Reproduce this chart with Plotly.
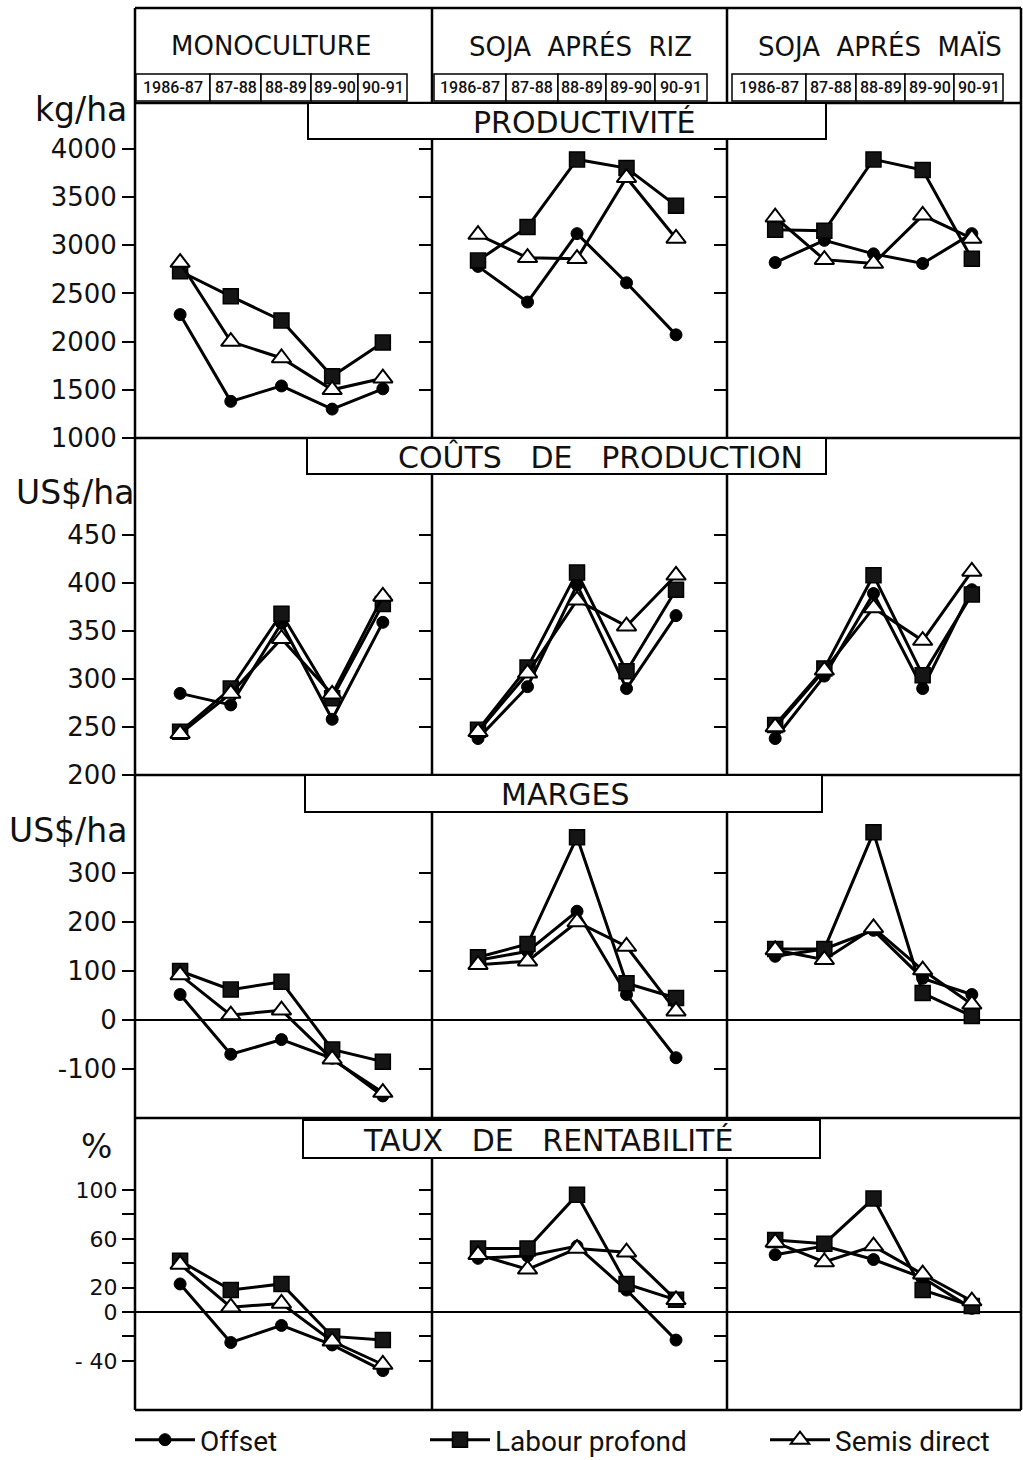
import plotly.graph_objects as go

W, H = 1023, 1460

years = ["1986-87", "87-88", "88-89", "89-90", "90-91"]
systems = ["MONOCULTURE", "SOJA  APRÉS  RIZ", "SOJA  APRÉS  MAÏS"]
indicators = ["PRODUCTIVITÉ", "COÛTS   DE   PRODUCTION", "MARGES", "TAUX   DE   RENTABILITÉ"]
units = ["kg/ha", "US$/ha", "US$/ha", "%"]
treatments = ["Offset", "Labour profond", "Semis direct"]

# Productivité (kg/ha) : [monoculture, soja après riz, soja après maïs]
prod_offset = [[2280, 1380, 1540, 1300, 1510], [2780, 2410, 3120, 2610, 2070], [2820, 3050, 2910, 2810, 3120]]
prod_labour = [[2730, 2470, 2220, 1640, 1990], [2840, 3190, 3890, 3800, 3410], [3160, 3150, 3890, 3780, 2860]]
prod_semis = [[2820, 2000, 1830, 1500, 1620], [3110, 2870, 2860, 3700, 3070], [3290, 2850, 2810, 3310, 3070]]

# Coûts de production (US$/ha)
cout_offset = [[285, 273, 358, 258, 359], [238, 292, 398, 290, 366], [238, 303, 389, 290, 393]]
cout_labour = [[245, 290, 368, 280, 378], [247, 312, 411, 308, 393], [252, 311, 408, 304, 388]]
cout_semis = [[243, 285, 342, 284, 386], [245, 306, 382, 355, 408], [250, 309, 374, 340, 412]]

# Marges (US$/ha)
marge_offset = [[52, -70, -40, -78, -155], [122, 140, 222, 52, -77], [130, 145, 183, 85, 52]]
marge_labour = [[100, 62, 78, -60, -85], [128, 155, 373, 75, 45], [145, 145, 383, 55, 8]]
marge_semis = [[92, 10, 20, -80, -148], [113, 120, 200, 150, 18], [143, 123, 188, 102, 32]]

# Taux de rentabilité (%)
taux_offset = [[23, -25, -11, -27, -48], [44, 46, 54, 18, -23], [47, 54, 43, 28, 3]]
taux_labour = [[42, 18, 23, -20, -23], [52, 52, 96, 23, 10], [59, 56, 93, 18, 5]]
taux_semis = [[39, 4, 7, -24, -43], [47, 35, 52, 49, 10], [57, 41, 54, 31, 9]]

data = [
    [prod_offset, prod_labour, prod_semis],
    [cout_offset, cout_labour, cout_semis],
    [marge_offset, marge_labour, marge_semis],
    [taux_offset, taux_labour, taux_semis],
]

row_tickvals = [
    [1000, 1500, 2000, 2500, 3000, 3500, 4000],
    [200, 250, 300, 350, 400, 450],
    [-100, 0, 100, 200, 300],
    [-40, -20, 0, 20, 40, 60, 80, 100],
]
row_ticktext = [
    ["1000", "1500", "2000", "2500", "3000", "3500", "4000"],
    ["200", "250", "300", "350", "400", "450"],
    ["-100", "0", "100", "200", "300"],
    ["- 40", "", "0", "20", "", "60", "", "100"],
]
row_tickfont_size = [26, 26, 26, 22]

# ---------- layout geometry (pixels) ----------
col_px = [(135, 432), (432, 727), (727, 1021)]
row_px = [(103, 438), (438, 775), (775, 1118), (1118, 1410)]
xranges = [[-0.89, 4.97], [-0.93, 5.03], [-0.98, 5.0]]
yranges = [[1000, 4475], [200, 551], [-200, 500], [-80.3, 159]]


def fx(x):
    return x / W


def fy(y):
    return 1 - y / H


marker_styles = [
    dict(symbol="circle", size=12, color="black", line=dict(color="black", width=1)),
    dict(symbol="square", size=15, color="#151515", line=dict(color="black", width=1.5)),
    dict(symbol="triangle-up", size=17, color="white", line=dict(color="black", width=2)),
]
legend_ids = ["legend", "legend2", "legend3"]

fig = go.Figure()
layout = {}

for r in range(4):
    for c in range(3):
        k = r * 3 + c + 1
        sfx = "" if k == 1 else str(k)
        x0, x1 = col_px[c]
        y0, y1 = row_px[r]
        layout["xaxis" + sfx] = dict(
            domain=[fx(x0), fx(x1)], range=xranges[c], visible=False,
            anchor="y" + sfx, type="category", fixedrange=True, automargin=False,
        )
        layout["yaxis" + sfx] = dict(
            domain=[fy(y1), fy(y0)], range=yranges[r], anchor="x" + sfx,
            showgrid=False, showline=False, automargin=False,
            zeroline=(r >= 2), zerolinecolor="black", zerolinewidth=2,
            ticks="outside", ticklen=12, tickwidth=2, tickcolor="black",
            tickvals=row_tickvals[r], ticktext=row_ticktext[r],
            showticklabels=(c == 0),
            tickfont=dict(family="DejaVu Sans", size=row_tickfont_size[r], color="#111"),
            fixedrange=True,
        )
        for t in range(3):
            fig.add_trace(go.Scatter(
                x=years, y=data[r][t][c], mode="lines+markers",
                name=treatments[t], legendgroup=treatments[t],
                legend=legend_ids[t],
                showlegend=(k == 1),
                line=dict(color="black", width=3),
                marker=marker_styles[t],
                xaxis="x" + sfx, yaxis="y" + sfx,
                cliponaxis=False,
            ))

shapes = []
LW = 2.5


def line(xa, ya, xb, yb, w=LW):
    shapes.append(dict(type="line", xref="paper", yref="paper",
                       x0=fx(xa), y0=fy(ya), x1=fx(xb), y1=fy(yb),
                       line=dict(color="black", width=w)))


def rect(xa, ya, xb, yb, w=2, fill="white"):
    shapes.append(dict(type="rect", xref="paper", yref="paper",
                       x0=fx(xa), y0=fy(ya), x1=fx(xb), y1=fy(yb),
                       line=dict(color="black", width=w), fillcolor=fill))


# outer frame and grid lines
line(135, 8, 1021, 8)
line(135, 8, 135, 1410)
line(1021, 8, 1021, 1410)
line(135, 1410, 1021, 1410)
line(432, 8, 432, 1410)
line(727, 8, 727, 1410)
for yy in [103, 438, 775, 1118]:
    line(135, yy, 1021, yy)

annotations = []

# year cells
year_cells = [
    [136, 210, 261, 311, 358, 407],
    [434, 506, 558, 606, 655, 707],
    [732, 806, 856, 905, 954, 1003],
]
for c in range(3):
    edges = year_cells[c]
    for i in range(5):
        rect(edges[i], 74, edges[i + 1], 101, w=1.5)
        annotations.append(dict(
            x=fx((edges[i] + edges[i + 1]) / 2), y=fy(88), xref="paper", yref="paper",
            text=years[i], showarrow=False, xanchor="center", yanchor="middle",
            font=dict(family="Roboto", size=16, color="#111", weight=500),
        ))

# column titles
for c, cx in enumerate([271, 580, 880]):
    annotations.append(dict(
        x=fx(cx), y=fy(46), xref="paper", yref="paper", text=systems[c],
        showarrow=False, xanchor="center", yanchor="middle",
        font=dict(family="DejaVu Sans", size=26, color="#111"),
    ))

# indicator title boxes
title_boxes = [(308, 103, 826, 139), (307, 438, 826, 474), (305, 775, 822, 812), (303, 1120, 820, 1158)]
title_centers = [584, 600, 565, 548]
for r in range(4):
    xa, ya, xb, yb = title_boxes[r]
    rect(xa, ya, xb, yb, w=2)
    annotations.append(dict(
        x=fx(title_centers[r]), y=fy((ya + yb) / 2 + 1), xref="paper", yref="paper",
        text=indicators[r], showarrow=False, xanchor="center", yanchor="middle",
        font=dict(family="DejaVu Sans", size=30, color="#111"),
    ))

# unit labels
unit_pos = [(129, 110, "right"), (136, 493, "right"), (129, 830, "right"), (96, 1146, "center")]
for r in range(4):
    ux, uy, anc = unit_pos[r]
    annotations.append(dict(
        x=fx(ux), y=fy(uy), xref="paper", yref="paper", text=units[r],
        showarrow=False, xanchor=anc, yanchor="middle",
        font=dict(family="DejaVu Sans", size=33, color="#111", weight=500),
    ))

legend_x = [130, 425, 765]
legend_common = dict(
    orientation="h", xanchor="left", yanchor="middle", y=fy(1440),
    font=dict(family="Roboto", size=28, color="#111"),
    itemwidth=60, bgcolor="rgba(0,0,0,0)", borderwidth=0,
)

fig.update_layout(
    width=W, height=H, autosize=False,
    margin=dict(l=0, r=0, t=0, b=0, autoexpand=False),
    paper_bgcolor="white", plot_bgcolor="white",
    shapes=shapes, annotations=annotations,
    showlegend=True,
    legend=dict(x=fx(legend_x[0]), **legend_common),
    legend2=dict(x=fx(legend_x[1]), **legend_common),
    legend3=dict(x=fx(legend_x[2]), **legend_common),
    **layout,
)

fig.write_html("out.html")
